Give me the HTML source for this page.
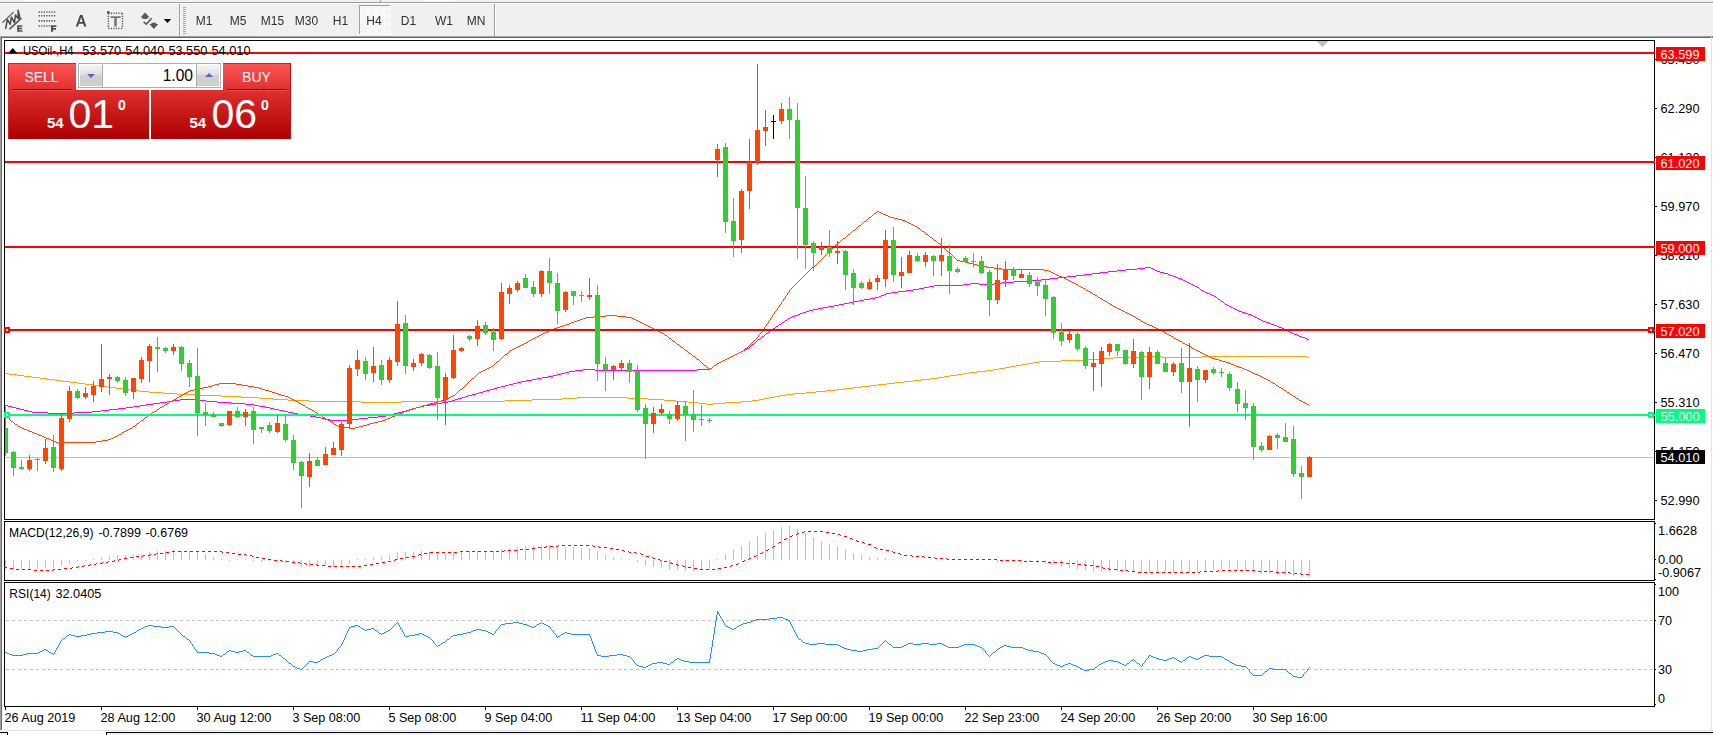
<!DOCTYPE html><html><head><meta charset="utf-8"><title>USOil H4</title>
<style>html,body{margin:0;padding:0;background:#fff;overflow:hidden}svg{display:block}text{font-family:"Liberation Sans",sans-serif}</style></head><body>
<svg width="1713" height="735" viewBox="0 0 1713 735">
<defs>
<linearGradient id="rg" x1="0" y1="0" x2="0" y2="1"><stop offset="0" stop-color="#ff5656"/><stop offset="0.35" stop-color="#e03030"/><stop offset="1" stop-color="#b00000"/></linearGradient>
<linearGradient id="bg" x1="0" y1="0" x2="0" y2="1"><stop offset="0" stop-color="#f4f4f4"/><stop offset="0.45" stop-color="#e0e0e0"/><stop offset="0.5" stop-color="#d0d0d0"/><stop offset="1" stop-color="#cfcfcf"/></linearGradient>
<pattern id="chk" width="2" height="2" patternUnits="userSpaceOnUse"><rect width="2" height="2" fill="#f0f0f0"/><rect width="1" height="1" fill="#fff"/><rect x="1" y="1" width="1" height="1" fill="#fff"/></pattern>
</defs>
<rect width="1713" height="735" fill="#fff"/>
<g shape-rendering="crispEdges">
<rect x="0" y="0" width="1713" height="37" fill="#f0f0f0" />
<rect x="23" y="0" width="32" height="1" fill="#fff" />
<rect x="423" y="0" width="32" height="1" fill="#fff" />
<rect x="0" y="2" width="1713" height="1" fill="#a0a0a0" />
<rect x="0" y="3" width="1713" height="1" fill="#fff" />
<rect x="380" y="0" width="1" height="2" fill="#a0a0a0" />
<rect x="0" y="36" width="1713" height="1" fill="#a0a0a0" />
<rect x="179" y="4" width="1" height="32" fill="#a0a0a0" />
<rect x="180" y="4" width="1" height="32" fill="#fff" />
<rect x="494" y="4" width="1" height="32" fill="#a0a0a0" />
<rect x="495" y="4" width="1" height="32" fill="#fff" />
<rect x="183" y="7" width="3" height="1" fill="#a8a8a8" />
<rect x="183" y="9" width="3" height="1" fill="#a8a8a8" />
<rect x="183" y="11" width="3" height="1" fill="#a8a8a8" />
<rect x="183" y="13" width="3" height="1" fill="#a8a8a8" />
<rect x="183" y="15" width="3" height="1" fill="#a8a8a8" />
<rect x="183" y="17" width="3" height="1" fill="#a8a8a8" />
<rect x="183" y="19" width="3" height="1" fill="#a8a8a8" />
<rect x="183" y="21" width="3" height="1" fill="#a8a8a8" />
<rect x="183" y="23" width="3" height="1" fill="#a8a8a8" />
<rect x="183" y="25" width="3" height="1" fill="#a8a8a8" />
<rect x="183" y="27" width="3" height="1" fill="#a8a8a8" />
<rect x="183" y="29" width="3" height="1" fill="#a8a8a8" />
<rect x="183" y="31" width="3" height="1" fill="#a8a8a8" />
<rect x="183" y="33" width="3" height="1" fill="#a8a8a8" />
<rect x="360" y="6" width="30" height="28" fill="url(#chk)" />
<rect x="359" y="5" width="32" height="1" fill="#a0a0a0" />
<rect x="359" y="5" width="1" height="30" fill="#a0a0a0" />
<rect x="390" y="5" width="1" height="30" fill="#fff" />
<rect x="359" y="34" width="32" height="1" fill="#fff" />
</g>
<g id="icons">
<g stroke="#585858" fill="none" stroke-linecap="round" stroke-linejoin="round">
<path d="M2.8,22.3 L13.3,12.5" stroke-width="1.5" stroke="#707070"/>
<path d="M9.8,28.8 L21,18.6" stroke-width="1.6"/>
<path d="M5.7,28.4 L7.4,19.4 L10.2,24.5 L11.4,17 L14.4,22.7 L15.5,14.9 L18.3,18.8 L18.1,10.3 L20,18.2" stroke-width="1.5" stroke="#484848"/>
</g>
<path d="M17.2,25.2h5.2v1.6h-3.2v0.9h2.9v1.5h-2.9v1h3.3v1.6h-5.3z" fill="#505050"/>
<g stroke="#585858" stroke-width="1.6" fill="none">
<path d="M38.6,12 H55.6" stroke-dasharray="1.3,1.25"/>
<path d="M38.6,15.8 H55.6" stroke-dasharray="1.3,1.25"/>
<path d="M38.6,20.9 H55.6" stroke-dasharray="1.3,1.25"/>
<path d="M38.6,26 H50.2" stroke-dasharray="1.3,1.25"/>
</g>
<path d="M51,25.2h5.4v1.7h-3.3v1.2h2.9v1.6h-2.9v2.1h-2.1z" fill="#505050"/>
<path d="M80,15h2.4l4,11.6h-2.3l-0.9,-2.9h-4.3l-0.9,2.9h-2.2z M81.1,17.3l-1.6,4.7h3.2z" fill="#484848" fill-rule="evenodd"/>
<g stroke="#505050" stroke-width="1.4" fill="none" stroke-dasharray="1.1,1.4">
<path d="M108.4,13.3 H122.6 M108.4,28.5 H122.6 M108.4,13.3 V28.5 M122.5,13.3 V28.5"/>
</g>
<rect x="107" y="11.2" width="2.6" height="2.4" fill="#585858" />
<path d="M110.4,16.2h10.3v1.8h-3.9v8.6h-2.6v-8.6h-3.8z" fill="#7a7a7a"/>
<path d="M145,12.6 L149.6,17.6 H147.5 V19 H142.6 V17.6 H140.5 Z" fill="#585858"/>
<path d="M153.8,28.9 L149.4,24 H151.5 V22.7 H156.2 V24 H158.4 Z" fill="#585858"/>
<path d="M143.6,21.8 L146.3,24.2 L151.6,18.2" stroke="#505050" stroke-width="1.5" fill="none"/>
<polygon points="163.8,19 171.2,19 167.5,23" fill="#000"/>
</g>
<g shape-rendering="crispEdges">
<rect x="0" y="37" width="1713" height="1" fill="#696969" />
<rect x="0" y="37" width="1" height="693" fill="#a0a0a0" />
<rect x="1" y="37" width="1" height="693" fill="#696969" />
<rect x="1711" y="37" width="1" height="694" fill="#e3e3e3" />
<rect x="0" y="730" width="1713" height="1" fill="#e3e3e3" />
<rect x="0" y="731" width="1713" height="1" fill="#fff" />
<rect x="0" y="732" width="1713" height="1" fill="#000" />
<rect x="0" y="733" width="1713" height="2" fill="#f0f0f0" />
<rect x="8" y="732" width="98" height="3" fill="#fff" />
<rect x="7" y="732" width="1" height="3" fill="#000" />
<rect x="106" y="732" width="1" height="3" fill="#000" />
</g>
<g shape-rendering="crispEdges">
<rect x="4" y="40" width="1651" height="1" fill="#000" />
<rect x="4" y="519" width="1651" height="1" fill="#000" />
<rect x="4" y="40" width="1" height="480" fill="#000" />
<rect x="1654" y="40" width="1" height="480" fill="#000" />
<rect x="4" y="521" width="1651" height="1" fill="#000" />
<rect x="4" y="580" width="1651" height="1" fill="#000" />
<rect x="4" y="521" width="1" height="60" fill="#000" />
<rect x="1654" y="521" width="1" height="60" fill="#000" />
<rect x="4" y="582" width="1651" height="1" fill="#000" />
<rect x="4" y="706" width="1651" height="1" fill="#000" />
<rect x="4" y="582" width="1" height="125" fill="#000" />
<rect x="1654" y="582" width="1" height="125" fill="#000" />
</g>
<svg x="5" y="41" width="1650" height="478" viewBox="5 41 1650 478" overflow="hidden">
<g shape-rendering="crispEdges">
<rect x="5" y="457" width="1649" height="1" fill="#c0c0c0" />
</g>
<path d="M1140,356h22M1202,356h105M1114,357h26M1162,357h40M1307,357h2M1101,358h13M1088,359h13M1061,360h27M1039,361h22M1033,362h6M1027,363h6M1022,364h5M1016,365h6M1010,366h6M1005,367h5M999,368h6M993,369h6M986,370h7M977,371h9M969,372h8M5,373h4M963,373h6M9,374h8M957,374h6M17,375h7M950,375h7M24,376h8M944,376h6M32,377h8M938,377h6M40,378h7M930,378h8M47,379h8M921,379h9M55,380h7M913,380h8M62,381h8M904,381h9M70,382h8M895,382h9M78,383h7M887,383h8M85,384h8M878,384h9M93,385h8M870,385h8M101,386h7M861,386h9M108,387h8M853,387h8M116,388h7M844,388h9M123,389h8M836,389h8M131,390h8M826,390h10M139,391h10M816,391h10M149,392h14M806,392h10M163,393h14M793,393h13M177,394h20M786,394h7M197,395h24M780,395h6M221,396h20M775,396h5M241,397h18M577,397h51M769,397h6M259,398h14M562,398h15M628,398h20M764,398h5M273,399h15M532,399h30M648,399h16M759,399h5M288,400h21M505,400h27M664,400h12M752,400h7M309,401h52M401,401h104M676,401h12M741,401h11M361,402h40M688,402h10M725,402h16M698,403h8M713,403h12M706,404h7" transform="translate(0,0.5)" fill="none" stroke="#ffa500" stroke-width="1" shape-rendering="crispEdges"/>
<path d="M1145,267h6M1137,268h8M1151,268h2M1126,269h11M1153,269h2M1117,270h9M1155,270h2M1108,271h9M1157,271h3M1100,272h8M1160,272h4M1092,273h8M1164,273h4M1084,274h8M1168,274h2M1076,275h8M1170,275h3M1067,276h9M1173,276h3M1058,277h9M1176,277h2M1050,278h8M1178,278h3M1041,279h9M1181,279h2M1029,280h12M1183,280h2M1014,281h15M1185,281h2M1002,282h12M1187,282h2M970,283h9M994,283h8M1189,283h2M963,284h7M979,284h15M1191,284h2M934,285h29M1193,285h2M929,286h5M1195,286h2M924,287h5M1197,287h2M919,288h5M1199,288h1M913,289h6M1200,289h1M906,290h7M1201,290h2M898,291h8M1203,291h2M891,292h7M1205,292h2M886,293h5M1207,293h3M884,294h2M1210,294h2M881,295h3M1212,295h2M879,296h2M1214,296h2M875,297h4M1216,297h1M870,298h5M1217,298h1M864,299h6M1218,299h2M859,300h5M1220,300h1M854,301h5M1221,301h2M849,302h5M1223,302h1M844,303h5M1224,303h1M839,304h5M1225,304h2M834,305h5M1227,305h2M828,306h6M1229,306h2M823,307h5M1231,307h2M818,308h5M1233,308h2M813,309h5M1235,309h2M809,310h4M1237,310h2M806,311h3M1239,311h3M803,312h3M1242,312h3M800,313h3M1245,313h3M798,314h2M1248,314h3M795,315h3M1251,315h2M792,316h3M1253,316h2M790,317h2M1255,317h2M788,318h2M1257,318h2M787,319h1M1259,319h2M785,320h2M1261,320h2M784,321h1M1263,321h3M782,322h2M1266,322h3M781,323h1M1269,323h2M779,324h2M1271,324h3M778,325h1M1274,325h3M776,326h2M1277,326h2M775,327h1M1279,327h3M773,328h2M1282,328h2M772,329h1M1284,329h2M770,330h2M1286,330h2M769,331h1M1288,331h2M768,332h1M1290,332h2M766,333h2M1292,333h2M765,334h1M1294,334h3M764,335h1M1297,335h2M762,336h2M1299,336h3M761,337h1M1302,337h3M760,338h1M1305,338h2M758,339h2M1307,339h2M757,340h1M756,341h1M755,342h1M754,343h1M752,344h2M751,345h1M750,346h1M749,347h1M747,348h2M745,349h2M743,350h2M741,351h2M739,352h2M737,353h2M735,354h2M733,355h2M731,356h2M729,357h2M727,358h2M725,359h2M723,360h2M721,361h2M719,362h2M717,363h2M716,364h1M714,365h2M713,366h1M712,367h1M710,368h2M583,369h12M697,369h13M575,370h8M595,370h102M569,371h6M565,372h4M561,373h4M557,374h4M553,375h4M548,376h5M542,377h6M537,378h5M532,379h5M526,380h6M521,381h5M517,382h4M513,383h4M509,384h4M505,385h4M501,386h4M497,387h4M494,388h3M490,389h4M486,390h4M483,391h3M479,392h4M476,393h3M472,394h4M468,395h4M465,396h3M462,397h3M458,398h4M180,399h17M455,399h3M173,400h7M197,400h9M452,400h3M167,401h6M206,401h11M448,401h4M160,402h7M217,402h14M442,402h6M153,403h7M231,403h14M436,403h6M146,404h7M245,404h9M430,404h6M5,405h3M140,405h6M254,405h5M424,405h6M8,406h4M133,406h7M259,406h6M420,406h4M12,407h4M126,407h7M265,407h5M416,407h4M16,408h4M118,408h8M270,408h4M413,408h3M20,409h4M109,409h9M274,409h5M410,409h3M24,410h4M101,410h8M279,410h5M406,410h4M28,411h4M92,411h9M284,411h4M402,411h4M32,412h16M74,412h18M288,412h5M398,412h4M48,413h26M293,413h5M394,413h4M298,414h6M390,414h4M304,415h6M386,415h4M310,416h6M378,416h8M316,417h5M368,417h10M321,418h4M359,418h9M325,419h5M351,419h8M330,420h21" transform="translate(0,0.5)" fill="none" stroke="#ff00ff" stroke-width="1" shape-rendering="crispEdges"/>
<path d="M877,211h2M876,212h1M879,212h2M874,213h2M881,213h2M873,214h1M883,214h3M872,215h1M886,215h2M871,216h1M888,216h2M869,217h2M890,217h4M868,218h1M894,218h4M867,219h1M898,219h4M866,220h1M902,220h3M864,221h2M905,221h2M863,222h1M907,222h2M862,223h1M909,223h2M861,224h1M911,224h2M859,225h2M913,225h2M858,226h1M915,226h2M857,227h1M917,227h1M856,228h1M918,228h2M855,229h1M920,229h1M853,230h2M921,230h1M852,231h1M922,231h2M851,232h1M924,232h1M850,233h1M925,233h1M848,234h2M926,234h2M847,235h1M928,235h1M846,236h1M929,236h1M845,237h1M930,237h2M843,238h2M932,238h1M842,239h1M933,239h1M841,240h1M934,240h2M840,241h1M936,241h1M838,242h2M937,242h1M837,243h1M938,243h2M836,244h1M940,244h1M835,245h1M941,245h1M834,246h1M942,246h1M833,247h1M943,247h1M832,248h1M944,248h1M831,249h1M945,249h1M830,250h1M946,250h1M829,251h1M947,251h1M828,252h1M948,252h1M827,253h1M949,253h2M826,254h1M951,254h1M825,255h1M952,255h1M824,256h1M953,256h1M823,257h1M954,257h1M822,258h1M955,258h1M821,259h1M956,259h1M820,260h1M957,260h3M819,261h1M960,261h5M818,262h1M965,262h4M817,263h1M969,263h4M816,264h1M973,264h4M815,265h1M977,265h4M813,266h2M981,266h6M812,267h1M987,267h7M811,268h1M994,268h8M810,269h1M1002,269h42M809,270h1M1044,270h5M808,271h1M1049,271h2M807,272h1M1051,272h2M806,273h1M1053,273h2M805,274h1M1055,274h2M804,275h1M1057,275h2M803,276h1M1059,276h3M802,277h1M1062,277h2M801,278h1M1064,278h2M800,279h1M1066,279h2M799,280h1M1068,280h2M798,281h1M1070,281h2M797,282h1M1072,282h2M796,283h1M1074,283h2M795,284h1M1076,284h2M794,285h1M1078,285h1M793,286h1M1079,286h2M792,287h1M1081,287h2M791,288h1M1083,288h2M790,289h1M1085,289h1M789,290h1M1086,290h2M789,291h1M1088,291h2M788,292h1M1090,292h2M787,293h1M1092,293h1M787,294h1M1093,294h2M786,295h1M1095,295h2M785,296h1M1097,296h1M785,297h1M1098,297h2M784,298h1M1100,298h2M783,299h1M1102,299h1M783,300h1M1103,300h2M782,301h1M1105,301h2M781,302h1M1107,302h1M781,303h1M1108,303h2M780,304h1M1110,304h2M779,305h1M1112,305h1M779,306h1M1113,306h2M778,307h1M1115,307h2M777,308h1M1117,308h2M777,309h1M1119,309h2M776,310h1M1121,310h2M775,311h1M1123,311h2M774,312h1M1125,312h2M774,313h1M1127,313h2M773,314h1M1129,314h2M606,315h11M772,315h1M1131,315h2M594,316h12M617,316h9M772,316h1M1133,316h2M586,317h8M626,317h6M771,317h1M1135,317h1M583,318h3M632,318h2M770,318h1M1136,318h2M580,319h3M634,319h2M770,319h1M1138,319h2M577,320h3M636,320h2M769,320h1M1140,320h1M574,321h3M638,321h2M768,321h1M1141,321h2M571,322h3M640,322h2M768,322h1M1143,322h2M569,323h2M642,323h2M767,323h1M1145,323h2M566,324h3M644,324h2M766,324h1M1147,324h2M563,325h3M646,325h2M766,325h1M1149,325h3M560,326h3M648,326h2M765,326h1M1152,326h2M557,327h3M650,327h2M764,327h1M1154,327h2M554,328h3M652,328h2M764,328h1M1156,328h2M552,329h2M654,329h2M763,329h1M1158,329h2M549,330h3M656,330h2M762,330h1M1160,330h2M547,331h2M658,331h2M762,331h1M1162,331h2M545,332h2M660,332h2M761,332h1M1164,332h1M543,333h2M662,333h2M760,333h1M1165,333h2M541,334h2M664,334h1M759,334h1M1167,334h2M539,335h2M665,335h2M758,335h1M1169,335h2M537,336h2M667,336h1M758,336h1M1171,336h2M535,337h2M668,337h1M757,337h1M1173,337h1M533,338h2M669,338h2M756,338h1M1174,338h2M531,339h2M671,339h1M755,339h1M1176,339h2M529,340h2M672,340h1M754,340h1M1178,340h2M528,341h1M673,341h2M753,341h1M1180,341h2M526,342h2M675,342h1M752,342h1M1182,342h1M524,343h2M676,343h1M751,343h1M1183,343h2M522,344h2M677,344h2M750,344h1M1185,344h2M520,345h2M679,345h1M749,345h1M1187,345h2M518,346h2M680,346h1M748,346h1M1189,346h2M516,347h2M681,347h2M747,347h1M1191,347h1M514,348h2M683,348h1M745,348h2M1192,348h2M512,349h2M684,349h1M744,349h1M1194,349h2M510,350h2M685,350h2M743,350h1M1196,350h2M509,351h1M687,351h1M741,351h2M1198,351h2M508,352h1M688,352h1M739,352h2M1200,352h2M507,353h1M689,353h2M737,353h2M1202,353h2M505,354h2M691,354h1M735,354h2M1204,354h2M504,355h1M692,355h1M733,355h2M1206,355h2M503,356h1M693,356h2M731,356h2M1208,356h2M502,357h1M695,357h1M729,357h2M1210,357h2M501,358h1M696,358h1M727,358h2M1212,358h3M500,359h1M697,359h2M725,359h2M1215,359h4M499,360h1M699,360h1M723,360h2M1219,360h3M497,361h2M700,361h1M721,361h2M1222,361h4M496,362h1M701,362h1M719,362h2M1226,362h3M495,363h1M702,363h1M717,363h2M1229,363h2M494,364h1M703,364h1M716,364h1M1231,364h3M493,365h1M704,365h2M714,365h2M1234,365h2M491,366h2M706,366h1M713,366h1M1236,366h3M489,367h2M707,367h1M712,367h1M1239,367h3M487,368h2M708,368h1M710,368h2M1242,368h2M485,369h2M709,369h1M1244,369h3M483,370h2M1247,370h2M481,371h2M1249,371h2M479,372h2M1251,372h2M478,373h1M1253,373h2M477,374h1M1255,374h3M476,375h1M1258,375h2M475,376h1M1260,376h2M474,377h1M1262,377h2M472,378h2M1264,378h2M471,379h1M1266,379h2M470,380h1M1268,380h2M469,381h1M1270,381h1M468,382h1M1271,382h2M219,383h17M467,383h1M1273,383h2M215,384h4M236,384h6M466,384h1M1275,384h1M212,385h3M242,385h6M465,385h1M1276,385h2M208,386h4M248,386h6M464,386h1M1278,386h1M203,387h5M254,387h5M463,387h1M1279,387h2M199,388h4M259,388h3M462,388h1M1281,388h2M194,389h5M262,389h3M460,389h2M1283,389h1M190,390h4M265,390h4M459,390h1M1284,390h2M188,391h2M269,391h3M458,391h1M1286,391h1M186,392h2M272,392h3M457,392h1M1287,392h2M184,393h2M275,393h3M456,393h1M1289,393h1M183,394h1M278,394h3M455,394h1M1290,394h2M181,395h2M281,395h4M453,395h2M1292,395h1M179,396h2M285,396h3M451,396h2M1293,396h2M177,397h2M288,397h2M449,397h2M1295,397h1M176,398h1M290,398h2M447,398h2M1296,398h2M174,399h2M292,399h2M445,399h2M1298,399h1M172,400h2M294,400h2M441,400h4M1299,400h2M170,401h2M296,401h2M438,401h3M1301,401h2M169,402h1M298,402h1M434,402h4M1303,402h2M167,403h2M299,403h2M430,403h4M1305,403h2M165,404h2M301,404h2M427,404h3M1307,404h2M164,405h1M303,405h2M423,405h4M162,406h2M305,406h1M420,406h3M160,407h2M306,407h2M416,407h4M159,408h1M308,408h2M412,408h4M157,409h2M310,409h2M409,409h3M156,410h1M312,410h2M407,410h2M154,411h2M314,411h1M404,411h3M152,412h2M315,412h2M402,412h2M5,413h1M151,413h1M317,413h1M399,413h3M6,414h1M149,414h2M318,414h2M397,414h2M6,415h1M148,415h1M320,415h2M395,415h2M7,416h1M147,416h1M322,416h1M392,416h3M8,417h1M145,417h2M323,417h2M390,417h2M9,418h1M144,418h1M325,418h1M387,418h3M9,419h1M143,419h1M326,419h2M385,419h2M10,420h1M141,420h2M328,420h2M382,420h3M11,421h2M140,421h1M330,421h1M378,421h4M13,422h1M139,422h1M331,422h2M374,422h4M14,423h1M137,423h2M333,423h1M370,423h4M15,424h2M136,424h1M334,424h2M367,424h3M17,425h1M135,425h1M336,425h2M363,425h4M18,426h2M133,426h2M338,426h4M359,426h4M20,427h2M132,427h1M342,427h8M355,427h4M22,428h2M130,428h2M350,428h5M24,429h3M128,429h2M27,430h2M126,430h2M29,431h3M124,431h2M32,432h2M122,432h2M34,433h3M121,433h1M37,434h2M119,434h2M39,435h3M117,435h2M42,436h2M115,436h2M44,437h2M113,437h2M46,438h3M111,438h2M49,439h2M108,439h3M51,440h3M102,440h6M54,441h2M96,441h6M56,442h2M63,442h33M58,443h5" transform="translate(0,0.5)" fill="none" stroke="#ff4500" stroke-width="1" shape-rendering="crispEdges"/>
<g shape-rendering="crispEdges">
<rect x="5" y="52" width="1650" height="2" fill="#ff0000" />
<rect x="5" y="161" width="1650" height="2" fill="#ff0000" />
<rect x="5" y="246" width="1650" height="2" fill="#ff0000" />
<rect x="5" y="329" width="1650" height="2" fill="#ff0000" />
<rect x="5" y="414" width="1650" height="2" fill="#00ff7f" />
</g>
<g shape-rendering="crispEdges">
<rect x="5" y="405" width="1" height="51" fill="#32cd32" />
<rect x="3" y="428" width="5" height="25" fill="#32cd32" />
<rect x="13" y="451" width="1" height="25" fill="#32cd32" />
<rect x="11" y="452" width="5" height="16" fill="#32cd32" />
<rect x="21" y="460" width="1" height="10" fill="#32cd32" />
<rect x="19" y="467" width="5" height="2" fill="#32cd32" />
<rect x="29" y="455" width="1" height="16" fill="#ff4500" />
<rect x="27" y="460" width="5" height="9" fill="#ff4500" />
<rect x="37" y="458" width="1" height="13" fill="#32cd32" />
<rect x="35" y="459" width="5" height="1" fill="#32cd32" />
<rect x="45" y="439" width="1" height="25" fill="#ff4500" />
<rect x="43" y="448" width="5" height="13" fill="#ff4500" />
<rect x="53" y="435" width="1" height="37" fill="#32cd32" />
<rect x="51" y="447" width="5" height="21" fill="#32cd32" />
<rect x="61" y="414" width="1" height="57" fill="#ff4500" />
<rect x="59" y="418" width="5" height="51" fill="#ff4500" />
<rect x="69" y="386" width="1" height="36" fill="#ff4500" />
<rect x="67" y="391" width="5" height="28" fill="#ff4500" />
<rect x="77" y="389" width="1" height="10" fill="#32cd32" />
<rect x="75" y="391" width="5" height="7" fill="#32cd32" />
<rect x="85" y="387" width="1" height="12" fill="#ff4500" />
<rect x="83" y="393" width="5" height="4" fill="#ff4500" />
<rect x="93" y="381" width="1" height="21" fill="#ff4500" />
<rect x="91" y="386" width="5" height="9" fill="#ff4500" />
<rect x="101" y="344" width="1" height="48" fill="#ff4500" />
<rect x="99" y="379" width="5" height="8" fill="#ff4500" />
<rect x="109" y="374" width="1" height="21" fill="#ff4500" />
<rect x="107" y="377" width="5" height="2" fill="#ff4500" />
<rect x="117" y="376" width="1" height="7" fill="#32cd32" />
<rect x="115" y="377" width="5" height="4" fill="#32cd32" />
<rect x="125" y="377" width="1" height="19" fill="#32cd32" />
<rect x="123" y="380" width="5" height="13" fill="#32cd32" />
<rect x="133" y="378" width="1" height="21" fill="#ff4500" />
<rect x="131" y="378" width="5" height="14" fill="#ff4500" />
<rect x="141" y="357" width="1" height="26" fill="#ff4500" />
<rect x="139" y="360" width="5" height="19" fill="#ff4500" />
<rect x="149" y="344" width="1" height="38" fill="#ff4500" />
<rect x="147" y="346" width="5" height="15" fill="#ff4500" />
<rect x="157" y="337" width="1" height="35" fill="#32cd32" />
<rect x="155" y="347" width="5" height="2" fill="#32cd32" />
<rect x="165" y="347" width="1" height="6" fill="#32cd32" />
<rect x="163" y="348" width="5" height="3" fill="#32cd32" />
<rect x="173" y="344" width="1" height="11" fill="#ff4500" />
<rect x="171" y="347" width="5" height="4" fill="#ff4500" />
<rect x="181" y="346" width="1" height="25" fill="#32cd32" />
<rect x="179" y="347" width="5" height="17" fill="#32cd32" />
<rect x="189" y="360" width="1" height="27" fill="#32cd32" />
<rect x="187" y="363" width="5" height="14" fill="#32cd32" />
<rect x="197" y="348" width="1" height="88" fill="#32cd32" />
<rect x="195" y="376" width="5" height="37" fill="#32cd32" />
<rect x="205" y="403" width="1" height="23" fill="#32cd32" />
<rect x="203" y="412" width="5" height="3" fill="#32cd32" />
<rect x="213" y="412" width="1" height="5" fill="#32cd32" />
<rect x="211" y="414" width="5" height="3" fill="#32cd32" />
<rect x="221" y="423" width="1" height="4" fill="#32cd32" />
<rect x="219" y="423" width="5" height="3" fill="#32cd32" />
<rect x="229" y="411" width="1" height="15" fill="#ff4500" />
<rect x="227" y="411" width="5" height="14" fill="#ff4500" />
<rect x="237" y="407" width="1" height="11" fill="#32cd32" />
<rect x="235" y="411" width="5" height="6" fill="#32cd32" />
<rect x="245" y="409" width="1" height="17" fill="#ff4500" />
<rect x="243" y="412" width="5" height="5" fill="#ff4500" />
<rect x="253" y="407" width="1" height="37" fill="#32cd32" />
<rect x="251" y="411" width="5" height="19" fill="#32cd32" />
<rect x="261" y="427" width="1" height="6" fill="#32cd32" />
<rect x="259" y="427" width="5" height="2" fill="#32cd32" />
<rect x="269" y="422" width="1" height="11" fill="#32cd32" />
<rect x="267" y="425" width="5" height="6" fill="#32cd32" />
<rect x="277" y="415" width="1" height="18" fill="#ff4500" />
<rect x="275" y="423" width="5" height="9" fill="#ff4500" />
<rect x="285" y="416" width="1" height="26" fill="#32cd32" />
<rect x="283" y="424" width="5" height="16" fill="#32cd32" />
<rect x="293" y="435" width="1" height="35" fill="#32cd32" />
<rect x="291" y="440" width="5" height="23" fill="#32cd32" />
<rect x="301" y="461" width="1" height="47" fill="#32cd32" />
<rect x="299" y="462" width="5" height="14" fill="#32cd32" />
<rect x="309" y="453" width="1" height="34" fill="#ff4500" />
<rect x="307" y="461" width="5" height="16" fill="#ff4500" />
<rect x="317" y="457" width="1" height="9" fill="#32cd32" />
<rect x="315" y="460" width="5" height="6" fill="#32cd32" />
<rect x="325" y="447" width="1" height="18" fill="#ff4500" />
<rect x="323" y="454" width="5" height="11" fill="#ff4500" />
<rect x="333" y="442" width="1" height="13" fill="#ff4500" />
<rect x="331" y="448" width="5" height="7" fill="#ff4500" />
<rect x="341" y="422" width="1" height="34" fill="#ff4500" />
<rect x="339" y="424" width="5" height="26" fill="#ff4500" />
<rect x="349" y="365" width="1" height="64" fill="#ff4500" />
<rect x="347" y="368" width="5" height="56" fill="#ff4500" />
<rect x="357" y="350" width="1" height="26" fill="#ff4500" />
<rect x="355" y="360" width="5" height="9" fill="#ff4500" />
<rect x="365" y="357" width="1" height="23" fill="#32cd32" />
<rect x="363" y="361" width="5" height="13" fill="#32cd32" />
<rect x="373" y="347" width="1" height="35" fill="#ff4500" />
<rect x="371" y="366" width="5" height="7" fill="#ff4500" />
<rect x="381" y="360" width="1" height="25" fill="#32cd32" />
<rect x="379" y="365" width="5" height="15" fill="#32cd32" />
<rect x="389" y="357" width="1" height="26" fill="#ff4500" />
<rect x="387" y="360" width="5" height="20" fill="#ff4500" />
<rect x="397" y="301" width="1" height="65" fill="#ff4500" />
<rect x="395" y="324" width="5" height="38" fill="#ff4500" />
<rect x="405" y="315" width="1" height="59" fill="#32cd32" />
<rect x="403" y="323" width="5" height="43" fill="#32cd32" />
<rect x="413" y="359" width="1" height="12" fill="#ff4500" />
<rect x="411" y="363" width="5" height="4" fill="#ff4500" />
<rect x="421" y="353" width="1" height="13" fill="#ff4500" />
<rect x="419" y="354" width="5" height="9" fill="#ff4500" />
<rect x="429" y="354" width="1" height="15" fill="#32cd32" />
<rect x="427" y="355" width="5" height="13" fill="#32cd32" />
<rect x="437" y="352" width="1" height="68" fill="#32cd32" />
<rect x="435" y="366" width="5" height="32" fill="#32cd32" />
<rect x="445" y="373" width="1" height="52" fill="#ff4500" />
<rect x="443" y="377" width="5" height="23" fill="#ff4500" />
<rect x="453" y="335" width="1" height="44" fill="#ff4500" />
<rect x="451" y="350" width="5" height="28" fill="#ff4500" />
<rect x="461" y="347" width="1" height="5" fill="#ff4500" />
<rect x="459" y="348" width="5" height="3" fill="#ff4500" />
<rect x="469" y="335" width="1" height="6" fill="#32cd32" />
<rect x="467" y="336" width="5" height="3" fill="#32cd32" />
<rect x="477" y="320" width="1" height="26" fill="#ff4500" />
<rect x="475" y="326" width="5" height="13" fill="#ff4500" />
<rect x="485" y="322" width="1" height="13" fill="#32cd32" />
<rect x="483" y="325" width="5" height="8" fill="#32cd32" />
<rect x="493" y="328" width="1" height="23" fill="#32cd32" />
<rect x="491" y="332" width="5" height="8" fill="#32cd32" />
<rect x="501" y="283" width="1" height="57" fill="#ff4500" />
<rect x="499" y="292" width="5" height="47" fill="#ff4500" />
<rect x="509" y="285" width="1" height="19" fill="#ff4500" />
<rect x="507" y="288" width="5" height="6" fill="#ff4500" />
<rect x="517" y="281" width="1" height="11" fill="#ff4500" />
<rect x="515" y="283" width="5" height="7" fill="#ff4500" />
<rect x="525" y="274" width="1" height="14" fill="#32cd32" />
<rect x="523" y="278" width="5" height="10" fill="#32cd32" />
<rect x="533" y="281" width="1" height="16" fill="#32cd32" />
<rect x="531" y="287" width="5" height="7" fill="#32cd32" />
<rect x="541" y="270" width="1" height="27" fill="#ff4500" />
<rect x="539" y="271" width="5" height="23" fill="#ff4500" />
<rect x="549" y="258" width="1" height="36" fill="#32cd32" />
<rect x="547" y="271" width="5" height="12" fill="#32cd32" />
<rect x="557" y="273" width="1" height="51" fill="#32cd32" />
<rect x="555" y="283" width="5" height="28" fill="#32cd32" />
<rect x="565" y="291" width="1" height="21" fill="#ff4500" />
<rect x="563" y="292" width="5" height="18" fill="#ff4500" />
<rect x="573" y="291" width="1" height="14" fill="#32cd32" />
<rect x="571" y="291" width="5" height="5" fill="#32cd32" />
<rect x="581" y="291" width="1" height="11" fill="#32cd32" />
<rect x="579" y="295" width="5" height="1" fill="#32cd32" />
<rect x="589" y="278" width="1" height="22" fill="#ff4500" />
<rect x="587" y="295" width="5" height="2" fill="#ff4500" />
<rect x="597" y="285" width="1" height="96" fill="#32cd32" />
<rect x="595" y="295" width="5" height="69" fill="#32cd32" />
<rect x="605" y="357" width="1" height="34" fill="#32cd32" />
<rect x="603" y="364" width="5" height="6" fill="#32cd32" />
<rect x="613" y="365" width="1" height="15" fill="#ff4500" />
<rect x="611" y="366" width="5" height="4" fill="#ff4500" />
<rect x="621" y="360" width="1" height="10" fill="#ff4500" />
<rect x="619" y="363" width="5" height="5" fill="#ff4500" />
<rect x="629" y="360" width="1" height="23" fill="#32cd32" />
<rect x="627" y="363" width="5" height="9" fill="#32cd32" />
<rect x="637" y="365" width="1" height="47" fill="#32cd32" />
<rect x="635" y="371" width="5" height="39" fill="#32cd32" />
<rect x="645" y="404" width="1" height="55" fill="#32cd32" />
<rect x="643" y="408" width="5" height="16" fill="#32cd32" />
<rect x="653" y="407" width="1" height="26" fill="#ff4500" />
<rect x="651" y="413" width="5" height="11" fill="#ff4500" />
<rect x="661" y="404" width="1" height="11" fill="#ff4500" />
<rect x="659" y="409" width="5" height="4" fill="#ff4500" />
<rect x="669" y="411" width="1" height="13" fill="#32cd32" />
<rect x="667" y="414" width="5" height="5" fill="#32cd32" />
<rect x="677" y="401" width="1" height="20" fill="#ff4500" />
<rect x="675" y="405" width="5" height="14" fill="#ff4500" />
<rect x="685" y="401" width="1" height="40" fill="#32cd32" />
<rect x="683" y="406" width="5" height="9" fill="#32cd32" />
<rect x="693" y="390" width="1" height="42" fill="#32cd32" />
<rect x="691" y="414" width="5" height="6" fill="#32cd32" />
<rect x="701" y="405" width="1" height="21" fill="#32cd32" />
<rect x="699" y="419" width="5" height="1" fill="#32cd32" />
<rect x="709" y="418" width="1" height="5" fill="#32cd32" />
<rect x="707" y="420" width="5" height="1" fill="#32cd32" />
<rect x="717" y="144" width="1" height="33" fill="#ff4500" />
<rect x="715" y="149" width="5" height="11" fill="#ff4500" />
<rect x="725" y="143" width="1" height="90" fill="#32cd32" />
<rect x="723" y="147" width="5" height="75" fill="#32cd32" />
<rect x="733" y="198" width="1" height="59" fill="#32cd32" />
<rect x="731" y="221" width="5" height="20" fill="#32cd32" />
<rect x="741" y="189" width="1" height="64" fill="#ff4500" />
<rect x="739" y="191" width="5" height="49" fill="#ff4500" />
<rect x="749" y="139" width="1" height="70" fill="#ff4500" />
<rect x="747" y="162" width="5" height="29" fill="#ff4500" />
<rect x="757" y="64" width="1" height="101" fill="#ff4500" />
<rect x="755" y="130" width="5" height="32" fill="#ff4500" />
<rect x="765" y="110" width="1" height="36" fill="#ff4500" />
<rect x="763" y="127" width="5" height="4" fill="#ff4500" />
<rect x="773" y="115" width="1" height="24" fill="#000000" />
<rect x="771" y="121" width="5" height="1" fill="#000000" />
<rect x="781" y="103" width="1" height="21" fill="#ff4500" />
<rect x="779" y="109" width="5" height="12" fill="#ff4500" />
<rect x="789" y="97" width="1" height="42" fill="#32cd32" />
<rect x="787" y="109" width="5" height="11" fill="#32cd32" />
<rect x="797" y="103" width="1" height="156" fill="#32cd32" />
<rect x="795" y="120" width="5" height="88" fill="#32cd32" />
<rect x="805" y="176" width="1" height="93" fill="#32cd32" />
<rect x="803" y="208" width="5" height="37" fill="#32cd32" />
<rect x="813" y="241" width="1" height="30" fill="#32cd32" />
<rect x="811" y="243" width="5" height="10" fill="#32cd32" />
<rect x="821" y="242" width="1" height="13" fill="#ff4500" />
<rect x="819" y="247" width="5" height="3" fill="#ff4500" />
<rect x="829" y="230" width="1" height="27" fill="#32cd32" />
<rect x="827" y="247" width="5" height="6" fill="#32cd32" />
<rect x="837" y="241" width="1" height="23" fill="#ff4500" />
<rect x="835" y="251" width="5" height="2" fill="#ff4500" />
<rect x="845" y="250" width="1" height="40" fill="#32cd32" />
<rect x="843" y="251" width="5" height="24" fill="#32cd32" />
<rect x="853" y="269" width="1" height="36" fill="#32cd32" />
<rect x="851" y="273" width="5" height="15" fill="#32cd32" />
<rect x="861" y="281" width="1" height="8" fill="#32cd32" />
<rect x="859" y="283" width="5" height="5" fill="#32cd32" />
<rect x="869" y="279" width="1" height="11" fill="#ff4500" />
<rect x="867" y="282" width="5" height="7" fill="#ff4500" />
<rect x="877" y="275" width="1" height="15" fill="#ff4500" />
<rect x="875" y="278" width="5" height="4" fill="#ff4500" />
<rect x="885" y="230" width="1" height="57" fill="#ff4500" />
<rect x="883" y="240" width="5" height="39" fill="#ff4500" />
<rect x="893" y="227" width="1" height="55" fill="#32cd32" />
<rect x="891" y="240" width="5" height="35" fill="#32cd32" />
<rect x="901" y="257" width="1" height="31" fill="#ff4500" />
<rect x="899" y="272" width="5" height="4" fill="#ff4500" />
<rect x="909" y="251" width="1" height="22" fill="#ff4500" />
<rect x="907" y="255" width="5" height="18" fill="#ff4500" />
<rect x="917" y="253" width="1" height="9" fill="#32cd32" />
<rect x="915" y="256" width="5" height="5" fill="#32cd32" />
<rect x="925" y="252" width="1" height="15" fill="#ff4500" />
<rect x="923" y="255" width="5" height="7" fill="#ff4500" />
<rect x="933" y="255" width="1" height="21" fill="#32cd32" />
<rect x="931" y="256" width="5" height="5" fill="#32cd32" />
<rect x="941" y="238" width="1" height="38" fill="#ff4500" />
<rect x="939" y="255" width="5" height="6" fill="#ff4500" />
<rect x="949" y="245" width="1" height="49" fill="#32cd32" />
<rect x="947" y="256" width="5" height="15" fill="#32cd32" />
<rect x="957" y="267" width="1" height="6" fill="#32cd32" />
<rect x="955" y="269" width="5" height="3" fill="#32cd32" />
<rect x="965" y="256" width="1" height="7" fill="#32cd32" />
<rect x="963" y="258" width="5" height="4" fill="#32cd32" />
<rect x="973" y="253" width="1" height="14" fill="#32cd32" />
<rect x="971" y="261" width="5" height="1" fill="#32cd32" />
<rect x="981" y="256" width="1" height="18" fill="#32cd32" />
<rect x="979" y="261" width="5" height="12" fill="#32cd32" />
<rect x="989" y="270" width="1" height="46" fill="#32cd32" />
<rect x="987" y="272" width="5" height="28" fill="#32cd32" />
<rect x="997" y="264" width="1" height="40" fill="#ff4500" />
<rect x="995" y="280" width="5" height="20" fill="#ff4500" />
<rect x="1005" y="261" width="1" height="26" fill="#ff4500" />
<rect x="1003" y="269" width="5" height="11" fill="#ff4500" />
<rect x="1013" y="267" width="1" height="13" fill="#32cd32" />
<rect x="1011" y="269" width="5" height="7" fill="#32cd32" />
<rect x="1021" y="270" width="1" height="8" fill="#ff4500" />
<rect x="1019" y="274" width="5" height="4" fill="#ff4500" />
<rect x="1029" y="272" width="1" height="15" fill="#32cd32" />
<rect x="1027" y="275" width="5" height="9" fill="#32cd32" />
<rect x="1037" y="277" width="1" height="19" fill="#32cd32" />
<rect x="1035" y="282" width="5" height="4" fill="#32cd32" />
<rect x="1045" y="280" width="1" height="36" fill="#32cd32" />
<rect x="1043" y="285" width="5" height="14" fill="#32cd32" />
<rect x="1053" y="296" width="1" height="43" fill="#32cd32" />
<rect x="1051" y="297" width="5" height="36" fill="#32cd32" />
<rect x="1061" y="323" width="1" height="23" fill="#32cd32" />
<rect x="1059" y="332" width="5" height="9" fill="#32cd32" />
<rect x="1069" y="331" width="1" height="12" fill="#ff4500" />
<rect x="1067" y="334" width="5" height="6" fill="#ff4500" />
<rect x="1077" y="332" width="1" height="19" fill="#32cd32" />
<rect x="1075" y="334" width="5" height="15" fill="#32cd32" />
<rect x="1085" y="346" width="1" height="23" fill="#32cd32" />
<rect x="1083" y="348" width="5" height="18" fill="#32cd32" />
<rect x="1093" y="352" width="1" height="39" fill="#ff4500" />
<rect x="1091" y="363" width="5" height="4" fill="#ff4500" />
<rect x="1101" y="347" width="1" height="40" fill="#ff4500" />
<rect x="1099" y="351" width="5" height="13" fill="#ff4500" />
<rect x="1109" y="343" width="1" height="13" fill="#ff4500" />
<rect x="1107" y="344" width="5" height="8" fill="#ff4500" />
<rect x="1117" y="344" width="1" height="12" fill="#32cd32" />
<rect x="1115" y="344" width="5" height="7" fill="#32cd32" />
<rect x="1125" y="350" width="1" height="15" fill="#32cd32" />
<rect x="1123" y="350" width="5" height="14" fill="#32cd32" />
<rect x="1133" y="339" width="1" height="29" fill="#ff4500" />
<rect x="1131" y="351" width="5" height="13" fill="#ff4500" />
<rect x="1141" y="351" width="1" height="49" fill="#32cd32" />
<rect x="1139" y="352" width="5" height="25" fill="#32cd32" />
<rect x="1149" y="347" width="1" height="42" fill="#ff4500" />
<rect x="1147" y="352" width="5" height="25" fill="#ff4500" />
<rect x="1157" y="350" width="1" height="14" fill="#32cd32" />
<rect x="1155" y="352" width="5" height="12" fill="#32cd32" />
<rect x="1165" y="358" width="1" height="14" fill="#32cd32" />
<rect x="1163" y="363" width="5" height="9" fill="#32cd32" />
<rect x="1173" y="362" width="1" height="14" fill="#ff4500" />
<rect x="1171" y="364" width="5" height="8" fill="#ff4500" />
<rect x="1181" y="348" width="1" height="45" fill="#32cd32" />
<rect x="1179" y="363" width="5" height="19" fill="#32cd32" />
<rect x="1189" y="343" width="1" height="84" fill="#ff4500" />
<rect x="1187" y="368" width="5" height="14" fill="#ff4500" />
<rect x="1197" y="366" width="1" height="36" fill="#32cd32" />
<rect x="1195" y="369" width="5" height="11" fill="#32cd32" />
<rect x="1205" y="370" width="1" height="13" fill="#ff4500" />
<rect x="1203" y="370" width="5" height="10" fill="#ff4500" />
<rect x="1213" y="367" width="1" height="8" fill="#32cd32" />
<rect x="1211" y="369" width="5" height="4" fill="#32cd32" />
<rect x="1221" y="368" width="1" height="9" fill="#32cd32" />
<rect x="1219" y="372" width="5" height="1" fill="#32cd32" />
<rect x="1229" y="372" width="1" height="19" fill="#32cd32" />
<rect x="1227" y="374" width="5" height="14" fill="#32cd32" />
<rect x="1237" y="382" width="1" height="30" fill="#32cd32" />
<rect x="1235" y="389" width="5" height="15" fill="#32cd32" />
<rect x="1245" y="390" width="1" height="30" fill="#32cd32" />
<rect x="1243" y="403" width="5" height="5" fill="#32cd32" />
<rect x="1253" y="403" width="1" height="57" fill="#32cd32" />
<rect x="1251" y="406" width="5" height="41" fill="#32cd32" />
<rect x="1261" y="442" width="1" height="10" fill="#32cd32" />
<rect x="1259" y="446" width="5" height="4" fill="#32cd32" />
<rect x="1269" y="435" width="1" height="15" fill="#ff4500" />
<rect x="1267" y="436" width="5" height="14" fill="#ff4500" />
<rect x="1277" y="433" width="1" height="16" fill="#32cd32" />
<rect x="1275" y="435" width="5" height="3" fill="#32cd32" />
<rect x="1285" y="423" width="1" height="19" fill="#32cd32" />
<rect x="1283" y="437" width="5" height="5" fill="#32cd32" />
<rect x="1293" y="426" width="1" height="51" fill="#32cd32" />
<rect x="1291" y="439" width="5" height="35" fill="#32cd32" />
<rect x="1301" y="466" width="1" height="33" fill="#32cd32" />
<rect x="1299" y="473" width="5" height="4" fill="#32cd32" />
<rect x="1309" y="456" width="1" height="21" fill="#ff4500" />
<rect x="1307" y="457" width="5" height="20" fill="#ff4500" />
</g>
</svg>
<g shape-rendering="crispEdges">
<rect x="4" y="327" width="6" height="6" fill="#ff0000" />
<rect x="6" y="329" width="2" height="2" fill="#fff" />
<rect x="1648" y="327" width="6" height="6" fill="#ff0000" />
<rect x="1650" y="329" width="2" height="2" fill="#fff" />
<rect x="4" y="412" width="6" height="6" fill="#00ff7f" />
<rect x="6" y="414" width="2" height="2" fill="#fff" />
<rect x="1648" y="412" width="6" height="6" fill="#00ff7f" />
<rect x="1650" y="414" width="2" height="2" fill="#fff" />
</g>
<polygon points="1316.5,41 1328.5,41 1322.5,47.2" fill="#c0c0c0"/>
<polygon points="8,53.5 17.5,53.5 12.75,48" fill="#000"/>
<text x="23" y="54.5" font-size="12.6" fill="#000" text-anchor="start" font-weight="normal"  textLength="50.5" lengthAdjust="spacingAndGlyphs">USOil-,H4</text>
<text x="82.2" y="54.5" font-size="12.6" fill="#000" text-anchor="start" font-weight="normal"  textLength="39" lengthAdjust="spacingAndGlyphs">53.570</text>
<text x="125.30000000000001" y="54.5" font-size="12.6" fill="#000" text-anchor="start" font-weight="normal"  textLength="39" lengthAdjust="spacingAndGlyphs">54.040</text>
<text x="168.4" y="54.5" font-size="12.6" fill="#000" text-anchor="start" font-weight="normal"  textLength="39" lengthAdjust="spacingAndGlyphs">53.550</text>
<text x="211.5" y="54.5" font-size="12.6" fill="#000" text-anchor="start" font-weight="normal"  textLength="39" lengthAdjust="spacingAndGlyphs">54.010</text>
<g shape-rendering="crispEdges">
<rect x="8" y="63" width="68" height="28" fill="url(#rg)" />
<rect x="223" y="63" width="68" height="28" fill="url(#rg)" />
</g>
<g shape-rendering="crispEdges">
<rect x="8" y="90" width="141" height="49" fill="url(#rg2)" />
<rect x="151" y="90" width="140" height="49" fill="url(#rg2)" />
</g>
<defs><linearGradient id="rg2" gradientUnits="userSpaceOnUse" x1="0" y1="63" x2="0" y2="139"><stop offset="0" stop-color="#ff5656"/><stop offset="0.4" stop-color="#dc2c2c"/><stop offset="1" stop-color="#ae0000"/></linearGradient></defs>
<g shape-rendering="crispEdges">
<rect x="8" y="63" width="68" height="28" fill="url(#rg2)" />
<rect x="223" y="63" width="68" height="28" fill="url(#rg2)" />
<rect x="8" y="63" width="68" height="1" fill="#d02020" />
<rect x="8" y="63" width="1" height="76" fill="#d02020" />
<rect x="223" y="63" width="68" height="1" fill="#d02020" />
<rect x="290" y="63" width="1" height="76" fill="#c01010" />
<rect x="12" y="89" width="60" height="1" fill="#a00000" />
<rect x="12" y="90" width="60" height="1" fill="#e85050" />
<rect x="227" y="89" width="60" height="1" fill="#a00000" />
<rect x="227" y="90" width="60" height="1" fill="#e85050" />
<rect x="78" y="63" width="143" height="25" fill="#fff" />
<rect x="78" y="63" width="143" height="1" fill="#abadb3" />
<rect x="78" y="87" width="143" height="1" fill="#abadb3" />
<rect x="78" y="63" width="1" height="25" fill="#abadb3" />
<rect x="220" y="63" width="1" height="25" fill="#abadb3" />
<rect x="79" y="64" width="24" height="23" fill="#fff" />
<rect x="80" y="65" width="22" height="21" fill="url(#bg)" />
<rect x="102" y="64" width="1" height="23" fill="#abadb3" />
<rect x="196" y="64" width="24" height="23" fill="#fff" />
<rect x="197" y="65" width="22" height="21" fill="url(#bg)" />
<rect x="196" y="64" width="1" height="23" fill="#abadb3" />
</g>
<polygon points="87,74 95,74 91,78" fill="#5068c4"/>
<polygon points="205,77 213,77 209,73" fill="#5068c4"/>
<text x="41.5" y="82" font-size="14" fill="#fff" text-anchor="middle" font-weight="normal" >SELL</text>
<text x="256.5" y="82" font-size="14" fill="#fff" text-anchor="middle" font-weight="normal" >BUY</text>
<text x="193" y="81" font-size="15.6" fill="#000" text-anchor="end" font-weight="normal" >1.00</text>
<text x="47" y="128" font-size="15" fill="#fff" text-anchor="start" font-weight="bold" >54</text>
<text x="68.5" y="128" font-size="41" fill="#fff" text-anchor="start" font-weight="normal" >01</text>
<text x="118" y="109.7" font-size="14" fill="#fff" text-anchor="start" font-weight="bold" >0</text>
<text x="189.5" y="128" font-size="15" fill="#fff" text-anchor="start" font-weight="bold" >54</text>
<text x="211.5" y="128" font-size="41" fill="#fff" text-anchor="start" font-weight="normal" >06</text>
<text x="261" y="109.7" font-size="14" fill="#fff" text-anchor="start" font-weight="bold" >0</text>
<g shape-rendering="crispEdges">
<rect x="5" y="560" width="1" height="9" fill="#c0c0c0" />
<rect x="13" y="560" width="1" height="9" fill="#c0c0c0" />
<rect x="21" y="560" width="1" height="9" fill="#c0c0c0" />
<rect x="29" y="560" width="1" height="9" fill="#c0c0c0" />
<rect x="37" y="560" width="1" height="9" fill="#c0c0c0" />
<rect x="45" y="560" width="1" height="8" fill="#c0c0c0" />
<rect x="53" y="560" width="1" height="8" fill="#c0c0c0" />
<rect x="61" y="560" width="1" height="6" fill="#c0c0c0" />
<rect x="69" y="560" width="1" height="4" fill="#c0c0c0" />
<rect x="77" y="560" width="1" height="1" fill="#c0c0c0" />
<rect x="85" y="560" width="1" height="1" fill="#c0c0c0" />
<rect x="93" y="559" width="1" height="1" fill="#c0c0c0" />
<rect x="101" y="557" width="1" height="3" fill="#c0c0c0" />
<rect x="109" y="556" width="1" height="4" fill="#c0c0c0" />
<rect x="117" y="555" width="1" height="5" fill="#c0c0c0" />
<rect x="125" y="555" width="1" height="5" fill="#c0c0c0" />
<rect x="133" y="555" width="1" height="5" fill="#c0c0c0" />
<rect x="141" y="554" width="1" height="6" fill="#c0c0c0" />
<rect x="149" y="552" width="1" height="8" fill="#c0c0c0" />
<rect x="157" y="551" width="1" height="9" fill="#c0c0c0" />
<rect x="165" y="551" width="1" height="9" fill="#c0c0c0" />
<rect x="173" y="550" width="1" height="10" fill="#c0c0c0" />
<rect x="181" y="551" width="1" height="9" fill="#c0c0c0" />
<rect x="189" y="551" width="1" height="9" fill="#c0c0c0" />
<rect x="197" y="552" width="1" height="8" fill="#c0c0c0" />
<rect x="205" y="554" width="1" height="6" fill="#c0c0c0" />
<rect x="213" y="557" width="1" height="3" fill="#c0c0c0" />
<rect x="221" y="559" width="1" height="1" fill="#c0c0c0" />
<rect x="229" y="560" width="1" height="1" fill="#c0c0c0" />
<rect x="237" y="559" width="1" height="1" fill="#c0c0c0" />
<rect x="245" y="559" width="1" height="1" fill="#c0c0c0" />
<rect x="253" y="560" width="1" height="1" fill="#c0c0c0" />
<rect x="261" y="560" width="1" height="2" fill="#c0c0c0" />
<rect x="269" y="560" width="1" height="1" fill="#c0c0c0" />
<rect x="277" y="560" width="1" height="2" fill="#c0c0c0" />
<rect x="285" y="560" width="1" height="3" fill="#c0c0c0" />
<rect x="293" y="560" width="1" height="4" fill="#c0c0c0" />
<rect x="301" y="560" width="1" height="7" fill="#c0c0c0" />
<rect x="309" y="560" width="1" height="7" fill="#c0c0c0" />
<rect x="317" y="560" width="1" height="7" fill="#c0c0c0" />
<rect x="325" y="560" width="1" height="6" fill="#c0c0c0" />
<rect x="333" y="560" width="1" height="7" fill="#c0c0c0" />
<rect x="341" y="560" width="1" height="6" fill="#c0c0c0" />
<rect x="349" y="560" width="1" height="4" fill="#c0c0c0" />
<rect x="357" y="559" width="1" height="1" fill="#c0c0c0" />
<rect x="365" y="559" width="1" height="1" fill="#c0c0c0" />
<rect x="373" y="557" width="1" height="3" fill="#c0c0c0" />
<rect x="381" y="556" width="1" height="4" fill="#c0c0c0" />
<rect x="389" y="555" width="1" height="5" fill="#c0c0c0" />
<rect x="397" y="552" width="1" height="8" fill="#c0c0c0" />
<rect x="405" y="552" width="1" height="8" fill="#c0c0c0" />
<rect x="413" y="552" width="1" height="8" fill="#c0c0c0" />
<rect x="421" y="551" width="1" height="9" fill="#c0c0c0" />
<rect x="429" y="552" width="1" height="8" fill="#c0c0c0" />
<rect x="437" y="553" width="1" height="7" fill="#c0c0c0" />
<rect x="445" y="554" width="1" height="6" fill="#c0c0c0" />
<rect x="453" y="553" width="1" height="7" fill="#c0c0c0" />
<rect x="461" y="552" width="1" height="8" fill="#c0c0c0" />
<rect x="469" y="551" width="1" height="9" fill="#c0c0c0" />
<rect x="477" y="551" width="1" height="9" fill="#c0c0c0" />
<rect x="485" y="551" width="1" height="9" fill="#c0c0c0" />
<rect x="493" y="551" width="1" height="9" fill="#c0c0c0" />
<rect x="501" y="549" width="1" height="11" fill="#c0c0c0" />
<rect x="509" y="548" width="1" height="12" fill="#c0c0c0" />
<rect x="517" y="547" width="1" height="13" fill="#c0c0c0" />
<rect x="525" y="546" width="1" height="14" fill="#c0c0c0" />
<rect x="533" y="546" width="1" height="14" fill="#c0c0c0" />
<rect x="541" y="545" width="1" height="15" fill="#c0c0c0" />
<rect x="549" y="545" width="1" height="15" fill="#c0c0c0" />
<rect x="557" y="546" width="1" height="14" fill="#c0c0c0" />
<rect x="565" y="547" width="1" height="13" fill="#c0c0c0" />
<rect x="573" y="547" width="1" height="13" fill="#c0c0c0" />
<rect x="581" y="548" width="1" height="12" fill="#c0c0c0" />
<rect x="589" y="548" width="1" height="12" fill="#c0c0c0" />
<rect x="597" y="551" width="1" height="9" fill="#c0c0c0" />
<rect x="605" y="555" width="1" height="5" fill="#c0c0c0" />
<rect x="613" y="557" width="1" height="3" fill="#c0c0c0" />
<rect x="621" y="559" width="1" height="1" fill="#c0c0c0" />
<rect x="629" y="559" width="1" height="1" fill="#c0c0c0" />
<rect x="637" y="560" width="1" height="2" fill="#c0c0c0" />
<rect x="645" y="560" width="1" height="6" fill="#c0c0c0" />
<rect x="653" y="560" width="1" height="7" fill="#c0c0c0" />
<rect x="661" y="560" width="1" height="8" fill="#c0c0c0" />
<rect x="669" y="560" width="1" height="10" fill="#c0c0c0" />
<rect x="677" y="560" width="1" height="10" fill="#c0c0c0" />
<rect x="685" y="560" width="1" height="11" fill="#c0c0c0" />
<rect x="693" y="560" width="1" height="11" fill="#c0c0c0" />
<rect x="701" y="560" width="1" height="10" fill="#c0c0c0" />
<rect x="709" y="560" width="1" height="9" fill="#c0c0c0" />
<rect x="717" y="559" width="1" height="1" fill="#c0c0c0" />
<rect x="725" y="554" width="1" height="6" fill="#c0c0c0" />
<rect x="733" y="550" width="1" height="10" fill="#c0c0c0" />
<rect x="741" y="546" width="1" height="14" fill="#c0c0c0" />
<rect x="749" y="541" width="1" height="19" fill="#c0c0c0" />
<rect x="757" y="536" width="1" height="24" fill="#c0c0c0" />
<rect x="765" y="532" width="1" height="28" fill="#c0c0c0" />
<rect x="773" y="530" width="1" height="30" fill="#c0c0c0" />
<rect x="781" y="527" width="1" height="33" fill="#c0c0c0" />
<rect x="789" y="526" width="1" height="34" fill="#c0c0c0" />
<rect x="797" y="529" width="1" height="31" fill="#c0c0c0" />
<rect x="805" y="533" width="1" height="27" fill="#c0c0c0" />
<rect x="813" y="537" width="1" height="23" fill="#c0c0c0" />
<rect x="821" y="541" width="1" height="19" fill="#c0c0c0" />
<rect x="829" y="544" width="1" height="16" fill="#c0c0c0" />
<rect x="837" y="546" width="1" height="14" fill="#c0c0c0" />
<rect x="845" y="549" width="1" height="11" fill="#c0c0c0" />
<rect x="853" y="553" width="1" height="7" fill="#c0c0c0" />
<rect x="861" y="555" width="1" height="5" fill="#c0c0c0" />
<rect x="869" y="557" width="1" height="3" fill="#c0c0c0" />
<rect x="877" y="558" width="1" height="2" fill="#c0c0c0" />
<rect x="885" y="558" width="1" height="2" fill="#c0c0c0" />
<rect x="893" y="559" width="1" height="1" fill="#c0c0c0" />
<rect x="997" y="560" width="1" height="2" fill="#c0c0c0" />
<rect x="1005" y="560" width="1" height="2" fill="#c0c0c0" />
<rect x="1013" y="560" width="1" height="2" fill="#c0c0c0" />
<rect x="1021" y="560" width="1" height="2" fill="#c0c0c0" />
<rect x="1029" y="560" width="1" height="2" fill="#c0c0c0" />
<rect x="1037" y="560" width="1" height="3" fill="#c0c0c0" />
<rect x="1045" y="560" width="1" height="4" fill="#c0c0c0" />
<rect x="1053" y="560" width="1" height="5" fill="#c0c0c0" />
<rect x="1061" y="560" width="1" height="7" fill="#c0c0c0" />
<rect x="1069" y="560" width="1" height="8" fill="#c0c0c0" />
<rect x="1077" y="560" width="1" height="9" fill="#c0c0c0" />
<rect x="1085" y="560" width="1" height="10" fill="#c0c0c0" />
<rect x="1093" y="560" width="1" height="12" fill="#c0c0c0" />
<rect x="1101" y="560" width="1" height="12" fill="#c0c0c0" />
<rect x="1109" y="560" width="1" height="12" fill="#c0c0c0" />
<rect x="1117" y="560" width="1" height="12" fill="#c0c0c0" />
<rect x="1125" y="560" width="1" height="12" fill="#c0c0c0" />
<rect x="1133" y="560" width="1" height="12" fill="#c0c0c0" />
<rect x="1141" y="560" width="1" height="13" fill="#c0c0c0" />
<rect x="1149" y="560" width="1" height="13" fill="#c0c0c0" />
<rect x="1157" y="560" width="1" height="13" fill="#c0c0c0" />
<rect x="1165" y="560" width="1" height="12" fill="#c0c0c0" />
<rect x="1173" y="560" width="1" height="12" fill="#c0c0c0" />
<rect x="1181" y="560" width="1" height="12" fill="#c0c0c0" />
<rect x="1189" y="560" width="1" height="13" fill="#c0c0c0" />
<rect x="1197" y="560" width="1" height="12" fill="#c0c0c0" />
<rect x="1205" y="560" width="1" height="11" fill="#c0c0c0" />
<rect x="1213" y="560" width="1" height="10" fill="#c0c0c0" />
<rect x="1221" y="560" width="1" height="9" fill="#c0c0c0" />
<rect x="1229" y="560" width="1" height="9" fill="#c0c0c0" />
<rect x="1237" y="560" width="1" height="10" fill="#c0c0c0" />
<rect x="1245" y="560" width="1" height="11" fill="#c0c0c0" />
<rect x="1253" y="560" width="1" height="13" fill="#c0c0c0" />
<rect x="1261" y="560" width="1" height="14" fill="#c0c0c0" />
<rect x="1269" y="560" width="1" height="14" fill="#c0c0c0" />
<rect x="1277" y="560" width="1" height="15" fill="#c0c0c0" />
<rect x="1285" y="560" width="1" height="15" fill="#c0c0c0" />
<rect x="1293" y="560" width="1" height="16" fill="#c0c0c0" />
<rect x="1301" y="560" width="1" height="17" fill="#c0c0c0" />
<rect x="1309" y="560" width="1" height="17" fill="#c0c0c0" />
</g>
<path d="M804,531h1M808,531h3M814,531h3M820,531h3M802,532h2M826,532h3M797,533h2M832,533h3M796,534h1M838,534h2M792,535h1M840,535h1M790,536h2M844,536h3M786,538h1M850,538h2M784,539h2M852,539h1M856,540h1M857,541h2M779,542h2M862,542h2M778,543h1M864,543h1M868,544h3M558,545h1M562,545h3M568,545h3M574,545h3M580,545h3M586,545h3M592,545h1M546,546h1M550,546h3M556,546h2M593,546h2M598,546h1M773,546h2M538,547h3M544,547h2M599,547h2M604,547h3M772,547h1M874,547h2M532,548h3M610,548h3M876,548h1M520,549h3M526,549h3M616,549h3M768,549h1M880,549h3M504,550h1M508,550h3M514,550h3M622,550h2M766,550h2M886,550h3M172,551h3M178,551h3M184,551h3M190,551h3M196,551h3M202,551h3M208,551h3M214,551h3M220,551h2M460,551h3M466,551h3M472,551h3M478,551h3M484,551h3M490,551h3M496,551h3M502,551h2M624,551h1M628,551h1M892,551h1M166,552h3M222,552h1M226,552h3M430,552h3M436,552h3M442,552h3M448,552h3M454,552h3M629,552h2M634,552h2M762,552h1M893,552h2M156,553h1M160,553h3M232,553h3M424,553h3M636,553h1M640,553h1M760,553h2M898,553h2M150,554h1M154,554h2M238,554h3M244,554h2M419,554h2M641,554h2M900,554h1M143,555h2M148,555h2M246,555h1M250,555h2M418,555h1M756,555h1M904,555h3M910,555h2M136,556h3M142,556h1M252,556h1M412,556h3M646,556h3M754,556h2M912,556h1M916,556h3M922,556h2M130,557h3M256,557h3M406,557h3M652,557h1M924,557h1M928,557h3M934,557h1M124,558h3M262,558h3M400,558h3M653,558h2M749,558h2M935,558h2M940,558h3M946,558h1M119,559h2M268,559h3M395,559h2M658,559h2M748,559h1M947,559h2M952,559h3M958,559h3M964,559h3M970,559h3M976,559h3M982,559h3M988,559h3M994,559h3M114,560h1M118,560h1M274,560h3M280,560h2M394,560h1M660,560h1M744,560h1M1000,560h3M1006,560h3M1012,560h3M1018,560h3M108,561h1M112,561h2M282,561h1M286,561h3M388,561h3M664,561h3M742,561h2M1024,561h3M1030,561h3M1036,561h3M1042,561h3M102,562h1M106,562h2M292,562h3M298,562h2M382,562h3M670,562h1M1048,562h3M1054,562h3M1060,562h3M96,563h1M100,563h2M300,563h1M304,563h2M376,563h3M671,563h2M738,563h1M1066,563h3M1072,563h3M90,564h1M94,564h2M306,564h1M310,564h3M316,564h1M370,564h3M676,564h2M736,564h2M1078,564h3M1084,564h1M84,565h1M88,565h2M317,565h2M322,565h3M364,565h3M678,565h1M682,565h1M731,565h2M1085,565h2M1090,565h3M78,566h1M82,566h2M328,566h3M334,566h3M340,566h3M346,566h3M352,566h3M358,566h3M683,566h2M730,566h1M1096,566h3M4,567h3M72,567h1M76,567h2M688,567h3M724,567h3M1102,567h1M10,568h3M64,568h3M70,568h2M694,568h3M718,568h3M1103,568h2M1108,568h1M16,569h3M22,569h3M28,569h3M53,569h2M58,569h3M700,569h3M706,569h3M712,569h3M1109,569h2M1114,569h3M34,570h3M40,570h3M46,570h3M52,570h1M1120,570h3M1126,570h2M1218,570h1M1222,570h3M1228,570h3M1234,570h3M1240,570h3M1246,570h3M1252,570h3M1128,571h1M1132,571h3M1200,571h1M1204,571h3M1210,571h3M1216,571h2M1258,571h3M1264,571h3M1270,571h3M1138,572h3M1144,572h3M1150,572h3M1156,572h3M1162,572h3M1168,572h3M1174,572h3M1180,572h3M1186,572h3M1192,572h3M1198,572h2M1276,572h3M1282,572h3M1288,572h2M1290,573h1M1294,573h3M1300,573h1M1301,574h2M1306,574h3" transform="translate(0,0.5)" fill="none" stroke="#ff0000" stroke-width="1" shape-rendering="crispEdges"/>
<text x="9" y="536.6" font-size="12.6" fill="#000" text-anchor="start" font-weight="normal"  textLength="84.5" lengthAdjust="spacingAndGlyphs">MACD(12,26,9)</text>
<text x="98.4" y="536.6" font-size="12.6" fill="#000" text-anchor="start" font-weight="normal"  textLength="42.5" lengthAdjust="spacingAndGlyphs">-0.7899</text>
<text x="145.6" y="536.6" font-size="12.6" fill="#000" text-anchor="start" font-weight="normal"  textLength="42.5" lengthAdjust="spacingAndGlyphs">-0.6769</text>
<g shape-rendering="crispEdges">
<line x1="6" y1="620.5" x2="1654" y2="620.5" stroke="#c0c0c0" stroke-dasharray="3,3"/>
<line x1="6" y1="669.5" x2="1654" y2="669.5" stroke="#c0c0c0" stroke-dasharray="3,3"/>
</g>
<path d="M717,611h1M717,612h2M717,613h2M717,614h1M719,614h1M716,615h1M719,615h1M716,616h1M720,616h1M716,617h1M720,617h1M777,617h6M716,618h1M721,618h1M769,618h8M783,618h2M716,619h1M722,619h1M756,619h13M785,619h3M716,620h1M722,620h1M753,620h3M788,620h2M715,621h1M723,621h1M751,621h2M789,621h1M397,622h1M513,622h6M541,622h1M715,622h1M723,622h1M747,622h4M790,622h1M396,623h1M398,623h1M505,623h8M519,623h4M539,623h2M542,623h2M715,623h1M724,623h1M743,623h4M790,623h1M395,624h1M398,624h1M501,624h4M523,624h4M537,624h2M544,624h2M715,624h1M724,624h1M741,624h2M791,624h1M148,625h5M355,625h3M394,625h1M399,625h1M500,625h1M527,625h2M536,625h1M546,625h2M715,625h1M725,625h1M739,625h2M791,625h1M145,626h3M153,626h8M169,626h5M351,626h4M358,626h2M393,626h1M399,626h1M499,626h1M529,626h3M534,626h2M548,626h2M715,626h1M726,626h2M737,626h2M792,626h1M143,627h2M161,627h8M174,627h1M349,627h2M360,627h1M392,627h1M400,627h1M499,627h1M532,627h2M550,627h1M714,627h1M728,627h2M736,627h1M792,627h1M141,628h2M175,628h1M349,628h1M361,628h2M371,628h3M391,628h1M400,628h1M498,628h1M550,628h1M714,628h1M730,628h2M734,628h2M793,628h1M139,629h2M176,629h1M348,629h1M363,629h2M367,629h4M374,629h1M390,629h1M401,629h1M476,629h5M497,629h1M551,629h1M714,629h1M732,629h2M793,629h1M137,630h2M177,630h1M348,630h1M365,630h2M375,630h2M388,630h2M402,630h1M473,630h3M481,630h5M496,630h1M552,630h1M714,630h1M794,630h1M105,631h8M136,631h1M178,631h1M347,631h1M377,631h1M386,631h2M402,631h1M471,631h2M486,631h2M495,631h1M553,631h1M714,631h1M794,631h1M97,632h8M113,632h5M134,632h2M179,632h1M347,632h1M378,632h1M384,632h2M403,632h1M467,632h4M488,632h2M495,632h1M553,632h1M565,632h2M714,632h1M795,632h1M91,633h6M118,633h2M132,633h2M180,633h1M346,633h1M379,633h2M382,633h2M403,633h1M419,633h3M463,633h4M490,633h2M494,633h1M554,633h1M563,633h2M567,633h4M714,633h1M795,633h1M69,634h2M87,634h4M120,634h1M130,634h2M181,634h1M346,634h1M381,634h1M404,634h1M415,634h4M422,634h2M457,634h6M492,634h2M555,634h1M561,634h2M571,634h19M713,634h1M796,634h1M67,635h2M71,635h4M81,635h6M121,635h2M128,635h2M182,635h1M345,635h1M404,635h1M409,635h6M424,635h2M453,635h4M556,635h1M560,635h1M589,635h1M713,635h1M796,635h1M66,636h1M75,636h6M123,636h2M126,636h2M183,636h2M345,636h1M405,636h4M426,636h2M451,636h2M556,636h1M558,636h2M590,636h1M713,636h1M797,636h1M65,637h1M125,637h1M185,637h1M345,637h1M428,637h2M450,637h1M557,637h1M590,637h1M713,637h1M797,637h1M63,638h2M186,638h1M344,638h1M430,638h1M449,638h1M591,638h1M713,638h1M798,638h1M62,639h1M187,639h2M344,639h1M431,639h1M447,639h2M591,639h1M713,639h1M799,639h2M61,640h1M189,640h1M343,640h1M432,640h1M446,640h1M591,640h1M712,640h1M801,640h1M885,640h1M60,641h1M190,641h1M343,641h1M433,641h1M445,641h1M592,641h1M712,641h1M802,641h1M884,641h1M886,641h1M60,642h1M190,642h1M342,642h1M433,642h1M443,642h2M592,642h1M712,642h1M803,642h2M883,642h1M887,642h1M59,643h1M191,643h1M342,643h1M434,643h1M441,643h2M592,643h1M712,643h1M805,643h4M817,643h8M882,643h1M888,643h1M908,643h5M921,643h8M937,643h5M59,644h1M192,644h1M341,644h1M435,644h1M440,644h1M593,644h1M712,644h1M809,644h8M825,644h13M881,644h1M889,644h2M906,644h2M913,644h8M929,644h8M942,644h2M964,644h11M58,645h1M192,645h1M341,645h1M436,645h1M438,645h2M593,645h1M712,645h1M838,645h2M880,645h1M891,645h1M904,645h2M944,645h2M961,645h3M975,645h2M1004,645h3M58,646h1M193,646h1M340,646h1M437,646h1M594,646h1M712,646h1M840,646h2M879,646h1M892,646h1M902,646h2M946,646h2M959,646h2M977,646h3M1002,646h2M1007,646h4M57,647h1M194,647h1M339,647h1M594,647h1M711,647h1M842,647h2M878,647h1M893,647h9M948,647h11M980,647h2M1000,647h2M1011,647h12M56,648h1M194,648h1M338,648h1M594,648h1M711,648h1M844,648h3M873,648h5M982,648h1M998,648h2M1023,648h2M44,649h2M56,649h1M195,649h1M337,649h1M595,649h1M711,649h1M847,649h4M867,649h6M983,649h1M997,649h1M1025,649h3M42,650h2M46,650h2M55,650h1M196,650h1M229,650h2M243,650h3M337,650h1M595,650h1M711,650h1M851,650h6M863,650h4M984,650h1M996,650h1M1028,650h5M40,651h2M48,651h1M55,651h1M196,651h1M227,651h2M231,651h4M239,651h4M246,651h1M336,651h1M595,651h1M711,651h1M857,651h6M985,651h1M995,651h1M1033,651h6M5,652h2M38,652h2M49,652h2M54,652h1M197,652h12M226,652h1M235,652h4M247,652h2M335,652h1M596,652h1M711,652h1M985,652h1M993,652h2M1039,652h2M7,653h2M27,653h11M51,653h2M54,653h1M209,653h6M225,653h1M249,653h1M276,653h2M334,653h1M596,653h1M710,653h1M986,653h1M992,653h1M1041,653h3M9,654h3M23,654h4M53,654h1M215,654h2M223,654h2M250,654h1M273,654h3M278,654h1M332,654h2M597,654h1M617,654h6M710,654h1M987,654h1M991,654h1M1044,654h2M12,655h11M217,655h3M222,655h1M251,655h2M271,655h2M279,655h2M329,655h3M597,655h4M609,655h8M623,655h4M710,655h1M988,655h1M990,655h1M1046,655h1M1149,655h2M1204,655h5M220,656h2M253,656h18M281,656h1M327,656h2M601,656h8M627,656h3M710,656h1M989,656h1M1047,656h1M1148,656h1M1151,656h2M1189,656h2M1202,656h2M1209,656h13M282,657h1M325,657h2M630,657h1M710,657h1M1048,657h1M1148,657h1M1153,657h3M1172,657h2M1187,657h2M1191,657h2M1200,657h2M1222,657h2M283,658h2M323,658h2M631,658h1M677,658h2M710,658h1M1049,658h1M1147,658h1M1156,658h3M1169,658h3M1174,658h2M1186,658h1M1193,658h3M1198,658h2M1224,658h1M285,659h1M321,659h2M632,659h1M675,659h2M679,659h2M709,659h1M1049,659h1M1133,659h1M1146,659h1M1159,659h4M1167,659h2M1176,659h1M1185,659h1M1196,659h2M1225,659h2M286,660h1M320,660h1M633,660h1M674,660h1M681,660h3M709,660h1M1050,660h1M1108,660h5M1131,660h2M1134,660h1M1145,660h1M1163,660h4M1177,660h2M1183,660h2M1227,660h2M287,661h1M309,661h4M318,661h2M633,661h1M673,661h1M684,661h5M709,661h1M1051,661h1M1105,661h3M1113,661h5M1130,661h1M1135,661h1M1145,661h1M1179,661h2M1182,661h1M1229,661h1M288,662h1M308,662h1M313,662h5M634,662h1M657,662h6M671,662h2M689,662h21M1052,662h1M1103,662h2M1118,662h2M1129,662h1M1136,662h1M1144,662h1M1181,662h1M1230,662h2M289,663h2M307,663h1M635,663h1M652,663h5M663,663h4M670,663h1M1053,663h2M1068,663h3M1101,663h2M1120,663h2M1127,663h2M1137,663h2M1143,663h1M1232,663h2M291,664h1M306,664h1M636,664h1M650,664h2M667,664h3M1055,664h2M1065,664h3M1071,664h2M1099,664h2M1122,664h2M1126,664h1M1139,664h1M1142,664h1M1234,664h2M292,665h1M305,665h1M637,665h2M648,665h2M1057,665h3M1063,665h2M1073,665h3M1098,665h1M1124,665h2M1140,665h1M1142,665h1M1236,665h5M293,666h2M304,666h1M639,666h4M646,666h2M1060,666h3M1076,666h2M1097,666h1M1141,666h1M1241,666h5M295,667h2M303,667h1M643,667h3M1078,667h2M1095,667h2M1246,667h1M1309,667h1M297,668h3M302,668h1M1080,668h2M1094,668h1M1247,668h1M1269,668h4M1308,668h1M300,669h2M1082,669h2M1089,669h5M1248,669h1M1268,669h1M1273,669h13M1307,669h1M1084,670h5M1249,670h1M1267,670h1M1286,670h1M1307,670h1M1249,671h1M1265,671h2M1287,671h1M1306,671h1M1250,672h1M1264,672h1M1288,672h1M1305,672h1M1251,673h1M1263,673h1M1289,673h2M1304,673h1M1252,674h1M1262,674h1M1291,674h1M1303,674h1M1253,675h9M1292,675h1M1303,675h1M1293,676h4M1302,676h1M1297,677h5" transform="translate(0,0.5)" fill="none" stroke="#1e90ff" stroke-width="1" shape-rendering="crispEdges"/>
<text x="9.3" y="597.6" font-size="12.6" fill="#000" text-anchor="start" font-weight="normal"  textLength="41.5" lengthAdjust="spacingAndGlyphs">RSI(14)</text>
<text x="55.4" y="597.6" font-size="12.6" fill="#000" text-anchor="start" font-weight="normal"  textLength="46" lengthAdjust="spacingAndGlyphs">32.0405</text>
<g shape-rendering="crispEdges">
<rect x="5" y="707" width="1" height="3" fill="#000" />
<rect x="101" y="707" width="1" height="3" fill="#000" />
<rect x="197" y="707" width="1" height="3" fill="#000" />
<rect x="293" y="707" width="1" height="3" fill="#000" />
<rect x="389" y="707" width="1" height="3" fill="#000" />
<rect x="485" y="707" width="1" height="3" fill="#000" />
<rect x="581" y="707" width="1" height="3" fill="#000" />
<rect x="677" y="707" width="1" height="3" fill="#000" />
<rect x="773" y="707" width="1" height="3" fill="#000" />
<rect x="869" y="707" width="1" height="3" fill="#000" />
<rect x="965" y="707" width="1" height="3" fill="#000" />
<rect x="1061" y="707" width="1" height="3" fill="#000" />
<rect x="1157" y="707" width="1" height="3" fill="#000" />
<rect x="1253" y="707" width="1" height="3" fill="#000" />
<rect x="1655" y="59" width="2" height="1" fill="#000" />
<rect x="1655" y="108" width="2" height="1" fill="#000" />
<rect x="1655" y="157" width="2" height="1" fill="#000" />
<rect x="1655" y="206" width="2" height="1" fill="#000" />
<rect x="1655" y="255" width="2" height="1" fill="#000" />
<rect x="1655" y="304" width="2" height="1" fill="#000" />
<rect x="1655" y="353" width="2" height="1" fill="#000" />
<rect x="1655" y="402" width="2" height="1" fill="#000" />
<rect x="1655" y="451" width="2" height="1" fill="#000" />
<rect x="1655" y="500" width="2" height="1" fill="#000" />
<rect x="1655" y="523" width="1" height="1" fill="#000" />
<rect x="1655" y="559" width="1" height="1" fill="#000" />
<rect x="1655" y="579" width="1" height="1" fill="#000" />
<rect x="1655" y="584" width="1" height="1" fill="#000" />
<rect x="1655" y="620" width="1" height="1" fill="#000" />
<rect x="1655" y="669" width="1" height="1" fill="#000" />
<rect x="1655" y="704" width="1" height="1" fill="#000" />
</g>
<text x="4.4" y="721.5" font-size="12.6" fill="#000" text-anchor="start" font-weight="normal"  textLength="71" lengthAdjust="spacingAndGlyphs">26 Aug 2019</text>
<text x="100.4" y="721.5" font-size="12.6" fill="#000" text-anchor="start" font-weight="normal"  textLength="75" lengthAdjust="spacingAndGlyphs">28 Aug 12:00</text>
<text x="196.4" y="721.5" font-size="12.6" fill="#000" text-anchor="start" font-weight="normal"  textLength="75" lengthAdjust="spacingAndGlyphs">30 Aug 12:00</text>
<text x="292.4" y="721.5" font-size="12.6" fill="#000" text-anchor="start" font-weight="normal"  textLength="68" lengthAdjust="spacingAndGlyphs">3 Sep 08:00</text>
<text x="388.4" y="721.5" font-size="12.6" fill="#000" text-anchor="start" font-weight="normal"  textLength="68" lengthAdjust="spacingAndGlyphs">5 Sep 08:00</text>
<text x="484.4" y="721.5" font-size="12.6" fill="#000" text-anchor="start" font-weight="normal"  textLength="68" lengthAdjust="spacingAndGlyphs">9 Sep 04:00</text>
<text x="580.4" y="721.5" font-size="12.6" fill="#000" text-anchor="start" font-weight="normal"  textLength="75" lengthAdjust="spacingAndGlyphs">11 Sep 04:00</text>
<text x="676.4" y="721.5" font-size="12.6" fill="#000" text-anchor="start" font-weight="normal"  textLength="75" lengthAdjust="spacingAndGlyphs">13 Sep 04:00</text>
<text x="772.4" y="721.5" font-size="12.6" fill="#000" text-anchor="start" font-weight="normal"  textLength="75" lengthAdjust="spacingAndGlyphs">17 Sep 00:00</text>
<text x="868.4" y="721.5" font-size="12.6" fill="#000" text-anchor="start" font-weight="normal"  textLength="75" lengthAdjust="spacingAndGlyphs">19 Sep 00:00</text>
<text x="964.4" y="721.5" font-size="12.6" fill="#000" text-anchor="start" font-weight="normal"  textLength="75" lengthAdjust="spacingAndGlyphs">22 Sep 23:00</text>
<text x="1060.4" y="721.5" font-size="12.6" fill="#000" text-anchor="start" font-weight="normal"  textLength="75" lengthAdjust="spacingAndGlyphs">24 Sep 20:00</text>
<text x="1156.4" y="721.5" font-size="12.6" fill="#000" text-anchor="start" font-weight="normal"  textLength="75" lengthAdjust="spacingAndGlyphs">26 Sep 20:00</text>
<text x="1252.4" y="721.5" font-size="12.6" fill="#000" text-anchor="start" font-weight="normal"  textLength="75" lengthAdjust="spacingAndGlyphs">30 Sep 16:00</text>
<text x="1660.5" y="64" font-size="12.6" fill="#000" text-anchor="start" font-weight="normal"  textLength="39" lengthAdjust="spacingAndGlyphs">63.450</text>
<text x="1660.5" y="113" font-size="12.6" fill="#000" text-anchor="start" font-weight="normal"  textLength="39" lengthAdjust="spacingAndGlyphs">62.290</text>
<text x="1660.5" y="162" font-size="12.6" fill="#000" text-anchor="start" font-weight="normal"  textLength="39" lengthAdjust="spacingAndGlyphs">61.130</text>
<text x="1660.5" y="211" font-size="12.6" fill="#000" text-anchor="start" font-weight="normal"  textLength="39" lengthAdjust="spacingAndGlyphs">59.970</text>
<text x="1660.5" y="260" font-size="12.6" fill="#000" text-anchor="start" font-weight="normal"  textLength="39" lengthAdjust="spacingAndGlyphs">58.810</text>
<text x="1660.5" y="309" font-size="12.6" fill="#000" text-anchor="start" font-weight="normal"  textLength="39" lengthAdjust="spacingAndGlyphs">57.630</text>
<text x="1660.5" y="358" font-size="12.6" fill="#000" text-anchor="start" font-weight="normal"  textLength="39" lengthAdjust="spacingAndGlyphs">56.470</text>
<text x="1660.5" y="407" font-size="12.6" fill="#000" text-anchor="start" font-weight="normal"  textLength="39" lengthAdjust="spacingAndGlyphs">55.310</text>
<text x="1660.5" y="456" font-size="12.6" fill="#000" text-anchor="start" font-weight="normal"  textLength="39" lengthAdjust="spacingAndGlyphs">54.150</text>
<text x="1660.5" y="505" font-size="12.6" fill="#000" text-anchor="start" font-weight="normal"  textLength="39" lengthAdjust="spacingAndGlyphs">52.990</text>
<text x="1658" y="535" font-size="12.6" fill="#000" text-anchor="start" font-weight="normal"  textLength="39" lengthAdjust="spacingAndGlyphs">1.6628</text>
<text x="1658" y="564" font-size="12.6" fill="#000" text-anchor="start" font-weight="normal"  textLength="25" lengthAdjust="spacingAndGlyphs">0.00</text>
<text x="1658" y="577" font-size="12.6" fill="#000" text-anchor="start" font-weight="normal"  textLength="43" lengthAdjust="spacingAndGlyphs">-0.9067</text>
<text x="1658" y="596" font-size="12.6" fill="#000" text-anchor="start" font-weight="normal"  textLength="21" lengthAdjust="spacingAndGlyphs">100</text>
<text x="1658" y="625" font-size="12.6" fill="#000" text-anchor="start" font-weight="normal"  textLength="14" lengthAdjust="spacingAndGlyphs">70</text>
<text x="1658" y="674" font-size="12.6" fill="#000" text-anchor="start" font-weight="normal"  textLength="14" lengthAdjust="spacingAndGlyphs">30</text>
<text x="1658" y="703" font-size="12.6" fill="#000" text-anchor="start" font-weight="normal"  textLength="7" lengthAdjust="spacingAndGlyphs">0</text>
<g shape-rendering="crispEdges">
<rect x="1656" y="47" width="49" height="14" fill="#ff0000" />
<rect x="1656" y="156" width="49" height="14" fill="#ff0000" />
<rect x="1656" y="241" width="49" height="14" fill="#ff0000" />
<rect x="1656" y="324" width="49" height="14" fill="#ff0000" />
<rect x="1656" y="409" width="49" height="14" fill="#00ff7f" />
<rect x="1656" y="450" width="49" height="14" fill="#000" />
</g>
<text x="1660.5" y="59" font-size="12.6" fill="#fff" text-anchor="start" font-weight="normal"  textLength="39" lengthAdjust="spacingAndGlyphs">63.599</text>
<text x="1660.5" y="168" font-size="12.6" fill="#fff" text-anchor="start" font-weight="normal"  textLength="39" lengthAdjust="spacingAndGlyphs">61.020</text>
<text x="1660.5" y="253" font-size="12.6" fill="#fff" text-anchor="start" font-weight="normal"  textLength="39" lengthAdjust="spacingAndGlyphs">59.000</text>
<text x="1660.5" y="336" font-size="12.6" fill="#fff" text-anchor="start" font-weight="normal"  textLength="39" lengthAdjust="spacingAndGlyphs">57.020</text>
<text x="1660.5" y="421" font-size="12.6" fill="#fff" text-anchor="start" font-weight="normal"  textLength="39" lengthAdjust="spacingAndGlyphs">55.000</text>
<text x="1660.5" y="462" font-size="12.6" fill="#fff" text-anchor="start" font-weight="normal"  textLength="39" lengthAdjust="spacingAndGlyphs">54.010</text>
</svg>
<div style="position:absolute;left:0;top:0;width:600px;height:37px;will-change:transform;font:12px/14px 'Liberation Sans',sans-serif;color:#303030"><span style="position:absolute;left:184px;top:14px;width:40px;text-align:center">M1</span><span style="position:absolute;left:218px;top:14px;width:40px;text-align:center">M5</span><span style="position:absolute;left:252.5px;top:14px;width:40px;text-align:center">M15</span><span style="position:absolute;left:286.5px;top:14px;width:40px;text-align:center">M30</span><span style="position:absolute;left:320.5px;top:14px;width:40px;text-align:center">H1</span><span style="position:absolute;left:354px;top:14px;width:40px;text-align:center">H4</span><span style="position:absolute;left:388.5px;top:14px;width:40px;text-align:center">D1</span><span style="position:absolute;left:424px;top:14px;width:40px;text-align:center">W1</span><span style="position:absolute;left:456px;top:14px;width:40px;text-align:center">MN</span></div>
</body></html>
